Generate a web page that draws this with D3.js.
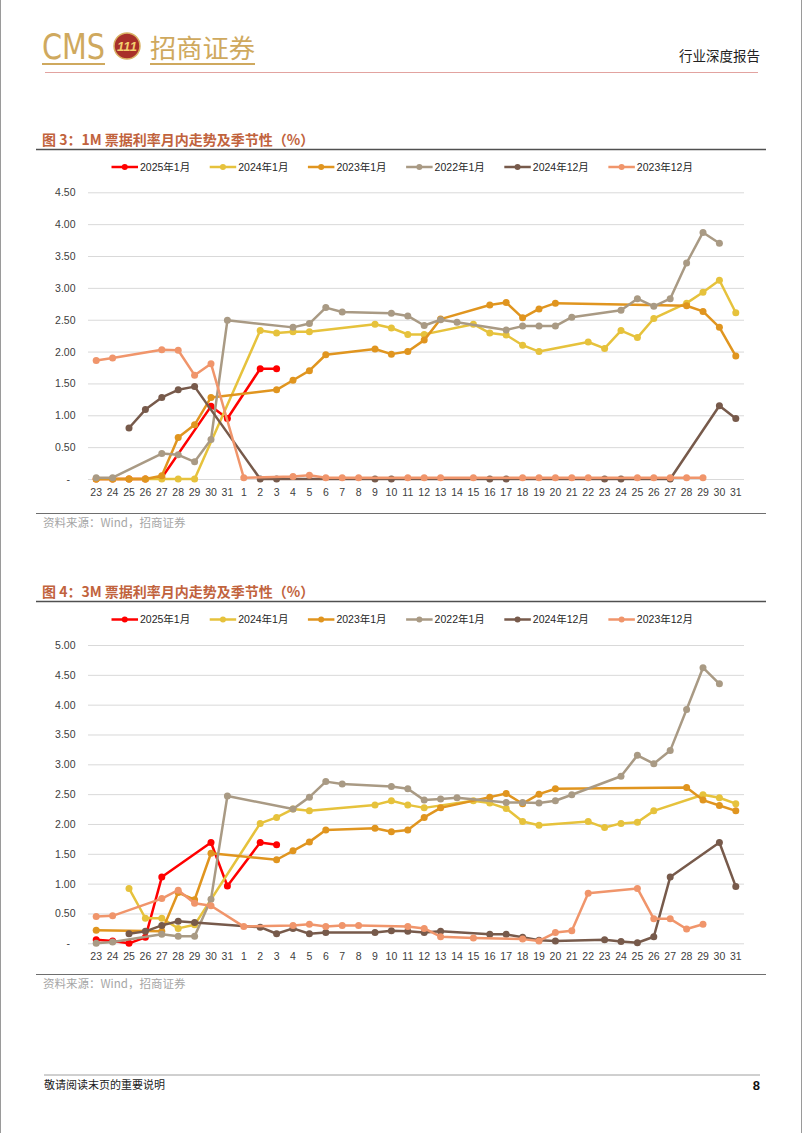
<!DOCTYPE html>
<html><head><meta charset="utf-8">
<script src="https://cdn.jsdelivr.net/npm/d3@7/dist/d3.min.js"></script>
<style>
body{margin:0;background:#fff;}
svg{display:block;}
</style></head><body>
<svg id="page" width="802" height="1133"></svg>
<script>
const _ = null;
// x categories: Dec/prev-month 23..31, then 1..31
const categories = ["23","24","25","26","27","28","29","30","31","1","2","3","4","5","6","7","8","9","10","11","12","13","14","15","16","17","18","19","20","21","22","23","24","25","26","27","28","29","30","31"];
const seriesNames = ["2025年1月","2024年1月","2023年1月","2022年1月","2024年12月","2023年12月"];
const seriesColors = ["#ff0000","#e6c23c","#e0951f","#a99a84","#775a4b","#f0956b"];

// Figure 3: 1M
const red1 = [0,0,0,0,0.02,_,_,1.14,0.95,_, 1.73,1.73,_,_,_,_,_,_,_,_, _,_,_,_,_,_,_,_,_,_, _,_,_,_,_,_,_,_,_,_];
const yellow1 = [0,0,0,0,0,0,0,_,_,_, 2.33,2.29,2.31,2.31,_,_,_,2.43,2.37,2.27, 2.27,_,_,2.43,2.29,2.26,2.10,2.00,_,_, 2.15,2.05,2.33,2.22,2.52,_,2.76,2.93,3.12,2.61];
const orange1 = [0,0,0,0,0.05,0.65,0.85,1.28,_,_, _,1.40,1.55,1.70,1.95,_,_,2.04,1.96,2.00, 2.18,2.51,_,_,2.73,2.77,2.53,2.67,2.76,_, _,_,_,_,_,_,2.72,2.63,2.38,1.93];
const gray1 = [0.02,0.02,_,_,0.40,0.38,0.27,0.62,2.49,_, _,_,2.38,2.44,2.69,2.62,_,_,2.60,2.56, 2.41,2.50,2.46,_,_,2.34,2.40,2.40,2.40,2.54, _,_,2.65,2.83,2.71,2.83,3.39,3.87,3.70,_];
const brown1 = [_,_,0.80,1.09,1.28,1.40,1.45,_,_,_, 0,0,_,_,_,_,_,0,0,_, _,_,_,_,0,0,_,_,_,_, _,0,0,_,_,0,_,_,1.15,0.95];
const salmon1 = [1.86,1.90,_,_,2.03,2.02,1.63,1.81,_,0.02, _,_,0.04,0.06,0.02,0.02,0.02,_,_,0.02, 0.02,0.02,_,0.02,_,_,0.02,0.02,0.02,0.02, 0.02,_,_,0.02,0.02,0.02,0.02,0.02,_,_];
const yTicks1 = [0,0.5,1,1.5,2,2.5,3,3.5,4,4.5];

// Figure 4: 3M
const red2 = [0.06,0.04,0,0.10,1.11,_,_,1.69,0.96,_, 1.69,1.65,_,_,_,_,_,_,_,_, _,_,_,_,_,_,_,_,_,_, _,_,_,_,_,_,_,_,_,_];
const yellow2 = [_,_,0.92,0.42,0.42,0.25,0.31,_,_,_, 2.01,2.11,2.25,2.22,_,_,_,2.32,2.39,2.32, 2.27,_,_,2.39,2.35,2.26,2.04,1.98,_,_, 2.04,1.94,2.01,2.03,2.22,_,_,2.49,2.44,2.34];
const orange2 = [0.22,_,_,_,0.20,0.85,0.73,1.51,_,_, _,1.40,1.55,1.70,1.90,_,_,1.93,1.87,1.90, 2.11,2.27,_,_,2.45,2.51,2.34,2.50,2.59,_, _,_,_,_,_,_,2.61,2.40,2.31,2.22];
const gray2 = [0,0.02,_,_,0.15,0.12,0.12,0.74,2.47,_, _,_,2.25,2.45,2.71,2.67,_,_,2.63,2.59, 2.40,2.42,2.44,_,_,2.36,2.36,2.35,2.39,2.49, _,_,2.80,3.15,3.01,3.23,3.92,4.62,4.35,_];
const brown2 = [_,_,0.16,0.20,0.30,0.37,0.35,_,_,_, 0.27,0.16,0.25,0.16,0.18,_,_,0.18,0.21,0.20, 0.18,0.20,_,_,0.15,0.15,0.10,0.05,0.04,_, _,0.06,0.03,0.01,0.11,1.11,_,_,1.69,0.95];
const salmon2 = [0.45,0.46,_,_,0.75,0.89,0.67,0.63,_,0.28, _,_,0.30,0.32,0.28,0.30,0.30,_,_,0.28, 0.25,0.11,_,0.09,_,_,0.07,0.04,0.18,0.21, 0.84,_,_,0.92,0.41,0.41,0.24,0.32,_,_];
const yTicks2 = [0,0.5,1,1.5,2,2.5,3,3.5,4,4.5,5];

const title1 = "图 3：1M 票据利率月内走势及季节性（%）";
const title2 = "图 4：3M 票据利率月内走势及季节性（%）";
const sourceText = "资料来源：Wind，招商证券";

const NUM = "'Liberation Sans', Arial, 'Noto Sans CJK SC', sans-serif";
const CJK = "'Noto Sans CJK SC', sans-serif";

const svg = d3.select("#page");
svg.append("rect").attr("width",802).attr("height",1133).attr("fill","#fff");
// page borders
svg.append("line").attr("x1",0.5).attr("x2",0.5).attr("y1",0).attr("y2",1133).attr("stroke","#9a9a9a").attr("stroke-width",1);
svg.append("line").attr("x1",801.5).attr("x2",801.5).attr("y1",0).attr("y2",1133).attr("stroke","#9a9a9a").attr("stroke-width",1);

// ---- header ----
const gold = "#cfa95e";
svg.append("text").attr("x",42).attr("y",59).attr("font-family","'Liberation Sans Narrow','DejaVu Sans Condensed',sans-serif")
  .attr("font-size",35).attr("fill",gold).attr("textLength",63).attr("lengthAdjust","spacingAndGlyphs").text("CMS");
svg.append("line").attr("x1",42).attr("x2",105).attr("y1",64).attr("y2",64).attr("stroke",gold).attr("stroke-width",2);
svg.append("circle").attr("cx",127).attr("cy",46).attr("r",13).attr("fill","#a8302a").attr("stroke","#d9b264").attr("stroke-width",1.5);
svg.append("text").attr("x",127).attr("y",51).attr("text-anchor","middle").attr("font-family",NUM).attr("font-weight","bold")
  .attr("font-style","italic").attr("font-size",13).attr("fill","#f2cf6e").text("111");
svg.append("text").attr("x",150).attr("y",58).attr("font-family",CJK).attr("font-size",26).attr("fill",gold)
  .attr("textLength",105).attr("lengthAdjust","spacingAndGlyphs").text("招商证券");
svg.append("line").attr("x1",150).attr("x2",255).attr("y1",64).attr("y2",64).attr("stroke",gold).attr("stroke-width",2);
svg.append("text").attr("x",760).attr("y",61).attr("text-anchor","end").attr("font-family",CJK).attr("font-size",13.5).attr("fill","#222").text("行业深度报告");
svg.append("line").attr("x1",45).attr("x2",758).attr("y1",72.5).attr("y2",72.5).attr("stroke","#e2a3a0").attr("stroke-width",1.2);

// ---- footer ----
svg.append("line").attr("x1",44).attr("x2",760).attr("y1",1075).attr("y2",1075).attr("stroke","#a0a0a0").attr("stroke-width",1);
svg.append("text").attr("x",44).attr("y",1089).attr("font-family",CJK).attr("font-size",11).attr("fill","#222").text("敬请阅读末页的重要说明");
svg.append("text").attr("x",760).attr("y",1090).attr("text-anchor","end").attr("font-family",NUM).attr("font-weight","bold").attr("font-size",13).attr("fill","#111").text("8");

function drawChart(cfg){
  const g = svg.append("g");
  // title
  g.append("text").attr("x",42).attr("y",cfg.titleY).attr("font-family",CJK).attr("font-weight","bold")
    .attr("font-size",14).attr("fill","#c1633d").text(cfg.title);
  g.append("line").attr("x1",36).attr("x2",766).attr("y1",cfg.titleY+4.5).attr("y2",cfg.titleY+4.5).attr("stroke","#505050").attr("stroke-width",1.5);

  const x = d3.scalePoint().domain(d3.range(categories.length)).range([96.2,735.8]);
  const y = d3.scaleLinear().domain([0,cfg.yMax]).range([cfg.y0,cfg.yTop]);

  // grid
  g.append("g").selectAll("line").data(cfg.yTicks).join("line")
    .attr("x1",88).attr("x2",744).attr("y1",d=>y(d)+0.5).attr("y2",d=>y(d)+0.5)
    .attr("stroke","#d9d9d9").attr("stroke-width",1);
  // y labels
  g.append("g").selectAll("text").data(cfg.yTicks).join("text")
    .attr("x",d=>d===0?70:75.5).attr("y",d=>y(d)+4).attr("text-anchor","end")
    .attr("font-family",NUM).attr("font-size",10.5).attr("fill","#404040")
    .text(d=>d===0?"-":d3.format(".2f")(d));
  // x labels
  g.append("g").selectAll("text").data(d3.range(categories.length)).join("text")
    .attr("x",d=>x(d)).attr("y",cfg.y0+17).attr("text-anchor","middle")
    .attr("font-family",NUM).attr("font-size",10.5).attr("fill","#404040")
    .text(d=>categories[d]);

  const line = d3.line().x(d=>x(d.i)).y(d=>y(d.v));
  cfg.series.forEach((arr,k)=>{
    const pts = arr.map((v,i)=>({i,v})).filter(d=>d.v!==null);
    const sg = g.append("g");
    sg.append("path").datum(pts).attr("d",line).attr("fill","none")
      .attr("stroke",seriesColors[k]).attr("stroke-width",2.5).attr("stroke-linejoin","round");
    sg.selectAll("circle").data(pts).join("circle")
      .attr("cx",d=>x(d.i)).attr("cy",d=>y(d.v)).attr("r",3.5).attr("fill",seriesColors[k]);
  });

  // legend
  const lg = g.append("g");
  let lx = 111.5;
  seriesNames.forEach((name,k)=>{
    const ly = cfg.legendY;
    lg.append("line").attr("x1",lx).attr("x2",lx+26.5).attr("y1",ly).attr("y2",ly)
      .attr("stroke",seriesColors[k]).attr("stroke-width",2.5);
    lg.append("circle").attr("cx",lx+13.25).attr("cy",ly).attr("r",3).attr("fill",seriesColors[k]);
    const t = lg.append("text").attr("x",lx+28.5).attr("y",ly+3.8).attr("font-family",NUM)
      .attr("font-size",10.5).attr("fill","#262626").text(name);
    const w = t.node().getComputedTextLength();
    lx += 28.5 + w + 19.5;
  });

  // source
  g.append("line").attr("x1",36).attr("x2",766).attr("y1",cfg.srcLineY).attr("y2",cfg.srcLineY).attr("stroke","#6e6e6e").attr("stroke-width",1.2);
  g.append("text").attr("x",43).attr("y",cfg.srcLineY+13.5).attr("font-family",CJK).attr("font-size",11.5)
    .attr("fill","#a6a6a6").text(sourceText);
}

drawChart({title:title1,titleY:145,legendY:167,y0:479,yTop:192.3,yMax:4.5,yTicks:yTicks1,
  series:[red1,yellow1,orange1,gray1,brown1,salmon1],srcLineY:513.5});
drawChart({title:title2,titleY:597,legendY:619.5,y0:943.3,yTop:645,yMax:5,yTicks:yTicks2,
  series:[red2,yellow2,orange2,gray2,brown2,salmon2],srcLineY:974.5});
</script>
</body></html>
